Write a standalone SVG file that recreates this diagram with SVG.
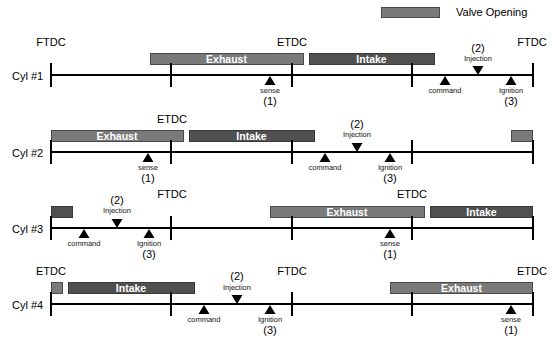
<svg xmlns="http://www.w3.org/2000/svg" xmlns:xlink="http://www.w3.org/1999/xlink" width="557" height="341" viewBox="0 0 557 341">
<style>
text{font-family:"Liberation Sans",Arial,sans-serif;fill:#000}
.tdc{font-size:11px;text-anchor:middle}
.cyl{font-size:11px}
.sm{font-size:7.5px;text-anchor:middle;fill:#111;text-rendering:geometricPrecision}
.num{font-size:11px;text-anchor:middle}
.bt{font-size:10.5px;font-weight:bold;fill:#fff;text-anchor:middle}
.ex{fill:#7a7a7a;stroke:#4a4a4a;stroke-width:1}
.in{fill:#505050;stroke:#3a3a3a;stroke-width:1}
.ax{stroke:#000;stroke-width:2;fill:none}
.tri{fill:#000}
#labels-small{opacity:0.99}
</style>
<defs>
<path id="up" class="tri" d="M-5.5,10 L5.5,10 L0,1 Z"/>
<path id="dn" class="tri" d="M-5.5,-9 L5.5,-9 L0,0 Z"/>
</defs>
<rect x="0" y="0" width="557" height="341" fill="#fff"/>
<g id="legend">
<rect class="ex" x="381.5" y="7.5" width="58" height="10"/>
<text class="cyl" x="456" y="16">Valve Opening</text>
</g>
<g id="cyl1">
<text class="tdc" x="51" y="46">FTDC</text>
<text class="tdc" x="292" y="46">ETDC</text>
<text class="tdc" x="532" y="46">FTDC</text>
<text class="cyl" x="12" y="80">Cyl #1</text>
<rect class="ex" x="150.5" y="53.5" width="153" height="11"/>
<text class="bt" x="226.5" y="63">Exhaust</text>
<rect class="in" x="309.5" y="53.5" width="125" height="11"/>
<text class="bt" x="371.5" y="63">Intake</text>
<path class="ax" d="M51,75 H533 M51,63 V87 M171,63 V87 M292,63 V87 M412,63 V87 M533,63 V87"/>
<use xlink:href="#up" x="270" y="75"/>
<text class="num" x="270" y="105">(1)</text>
<use xlink:href="#up" x="445" y="75"/>
<use xlink:href="#dn" x="478" y="75"/>
<text class="num" x="478" y="52">(2)</text>
<use xlink:href="#up" x="511" y="75"/>
<text class="num" x="511" y="105">(3)</text>
</g>
<g id="cyl2">
<text class="tdc" x="172" y="123">ETDC</text>
<text class="cyl" x="12" y="157">Cyl #2</text>
<rect class="ex" x="51.5" y="130.5" width="132" height="11"/>
<text class="bt" x="117" y="140">Exhaust</text>
<rect class="in" x="189.5" y="130.5" width="125" height="11"/>
<text class="bt" x="251.5" y="140">Intake</text>
<rect class="ex" x="511.5" y="130.5" width="21" height="11"/>
<path class="ax" d="M51,152 H533 M51,140 V164 M171,140 V164 M292,140 V164 M412,140 V164 M533,140 V164"/>
<use xlink:href="#up" x="148" y="152"/>
<text class="num" x="148" y="182">(1)</text>
<use xlink:href="#up" x="325" y="152"/>
<use xlink:href="#dn" x="357" y="152"/>
<text class="num" x="357" y="128">(2)</text>
<use xlink:href="#up" x="390" y="152"/>
<text class="num" x="390" y="182">(3)</text>
</g>
<g id="cyl3">
<text class="tdc" x="172" y="198">FTDC</text>
<text class="tdc" x="412" y="198">ETDC</text>
<text class="cyl" x="12" y="233">Cyl #3</text>
<rect class="in" x="51.5" y="206.5" width="21" height="11"/>
<rect class="ex" x="270.5" y="206.5" width="154" height="11"/>
<text class="bt" x="347" y="216">Exhaust</text>
<rect class="in" x="430.5" y="206.5" width="102" height="11"/>
<text class="bt" x="481.5" y="216">Intake</text>
<path class="ax" d="M51,228 H533 M51,216 V240 M171,216 V240 M292,216 V240 M412,216 V240 M533,216 V240"/>
<use xlink:href="#up" x="84" y="228"/>
<use xlink:href="#dn" x="117" y="228"/>
<text class="num" x="117" y="204">(2)</text>
<use xlink:href="#up" x="149" y="228"/>
<text class="num" x="149" y="258">(3)</text>
<use xlink:href="#up" x="390" y="228"/>
<text class="num" x="390" y="258">(1)</text>
</g>
<g id="cyl4">
<text class="tdc" x="51" y="275">ETDC</text>
<text class="tdc" x="292" y="275">FTDC</text>
<text class="tdc" x="532" y="275">ETDC</text>
<text class="cyl" x="12" y="309">Cyl #4</text>
<rect class="ex" x="51.5" y="282.5" width="11" height="11"/>
<rect class="in" x="68.5" y="282.5" width="126" height="11"/>
<text class="bt" x="131" y="292">Intake</text>
<rect class="ex" x="390.5" y="282.5" width="142" height="11"/>
<text class="bt" x="461.5" y="292">Exhaust</text>
<path class="ax" d="M51,304 H533 M51,292 V316 M171,292 V316 M292,292 V316 M412,292 V316 M533,292 V316"/>
<use xlink:href="#up" x="204" y="304"/>
<use xlink:href="#dn" x="237" y="304"/>
<text class="num" x="237" y="280">(2)</text>
<use xlink:href="#up" x="270" y="304"/>
<text class="num" x="270" y="334">(3)</text>
<use xlink:href="#up" x="511" y="304"/>
<text class="num" x="511" y="334">(1)</text>
</g>
<g id="labels-small">
<text class="sm" x="270" y="93">sense</text>
<text class="sm" x="445" y="93">command</text>
<text class="sm" x="478" y="61">Injection</text>
<text class="sm" x="511" y="93">Ignition</text>
<text class="sm" x="148" y="170">sense</text>
<text class="sm" x="325" y="170">command</text>
<text class="sm" x="357" y="137">Injection</text>
<text class="sm" x="390" y="170">Ignition</text>
<text class="sm" x="84" y="246">command</text>
<text class="sm" x="117" y="213">Injection</text>
<text class="sm" x="149" y="246">Ignition</text>
<text class="sm" x="390" y="246">sense</text>
<text class="sm" x="204" y="322">command</text>
<text class="sm" x="237" y="290">Injection</text>
<text class="sm" x="270" y="322">Ignition</text>
<text class="sm" x="511" y="322">sense</text>
</g>
</svg>
